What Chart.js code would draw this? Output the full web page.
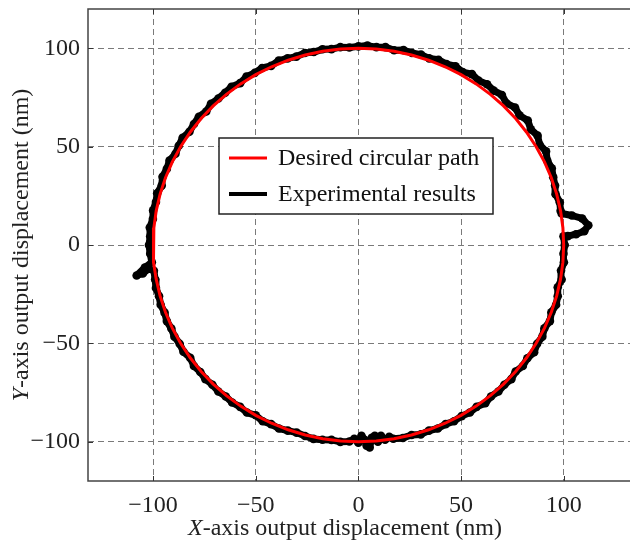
<!DOCTYPE html>
<html>
<head>
<meta charset="utf-8">
<script src="https://cdn.jsdelivr.net/npm/chart.js@4/dist/chart.umd.min.js"></script>
<style>
  html, body { margin: 0; padding: 0; background: #fff; }
  #wrap { width: 630px; height: 542px; }
</style>
</head>
<body>
<div id="wrap"><canvas id="c" width="630" height="542"></canvas></div>
<script>
// ---- data ----
const xTicks = [-100, -50, 0, 50, 100];
const yTicks = [-100, -50, 0, 50, 100];
const seriesLabels = ['Desired circular path', 'Experimental results'];
const xTitle = ['X', '-axis output displacement (nm)'];
const yTitle = ['Y', '-axis output displacement (nm)'];

const desiredX = [100, 99.62, 98.48, 96.59, 93.97, 90.63, 86.60, 81.92, 76.60, 70.71, 64.28, 57.36, 50.00, 42.26, 34.20, 25.88, 17.36, 8.72, 0,
  -8.72, -17.36, -25.88, -34.20, -42.26, -50.00, -57.36, -64.28, -70.71, -76.60, -81.92, -86.60, -90.63, -93.97, -96.59, -98.48, -99.62, -100,
  -99.62, -98.48, -96.59, -93.97, -90.63, -86.60, -81.92, -76.60, -70.71, -64.28, -57.36, -50.00, -42.26, -34.20, -25.88, -17.36, -8.72, 0,
  8.72, 17.36, 25.88, 34.20, 42.26, 50.00, 57.36, 64.28, 70.71, 76.60, 81.92, 86.60, 90.63, 93.97, 96.59, 98.48, 99.62, 100];
const desiredY = [0, 8.72, 17.36, 25.88, 34.20, 42.26, 50.00, 57.36, 64.28, 70.71, 76.60, 81.92, 86.60, 90.63, 93.97, 96.59, 98.48, 99.62, 100,
  99.62, 98.48, 96.59, 93.97, 90.63, 86.60, 81.92, 76.60, 70.71, 64.28, 57.36, 50.00, 42.26, 34.20, 25.88, 17.36, 8.72, 0,
  -8.72, -17.36, -25.88, -34.20, -42.26, -50.00, -57.36, -64.28, -70.71, -76.60, -81.92, -86.60, -90.63, -93.97, -96.59, -98.48, -99.62, -100,
  -99.62, -98.48, -96.59, -93.97, -90.63, -86.60, -81.92, -76.60, -70.71, -64.28, -57.36, -50.00, -42.26, -34.20, -25.88, -17.36, -8.72, 0];

const expX = [98.5, 98.1, 96.1, 95.8, 94.9, 94.2, 92.0, 91.4, 88.3, 87.3, 84.0, 82.5, 78.5, 76.3, 72.1, 69.9, 65.9, 62.7, 58.5, 55.3,
  50.8, 47.3, 42.9, 39.0, 34.5, 30.5, 26.1, 22.0, 17.4, 13.2, 8.8, 4.4, 0, -4.4, -8.8, -13.1, -17.5, -21.7, -26.1, -30.2,
  -34.5, -38.8, -42.5, -46.9, -50.5, -54.5, -57.6, -61.8, -64.9, -68.2, -71.8, -74.1, -77.7, -80.1, -82.3, -85.6, -87.5, -89.1, -92.0, -93.3,
  -95.4, -95.8, -98.0, -98.6, -100.0, -100.1, -101.6, -101.4, -102, -101.4, -100.6, -104, -108, -105, -102, -99.6, -99.0, -98.6, -97.1, -96.3,
  -94.4, -93.3, -91.1, -89.6, -87.0, -85.2, -81.9, -80.1, -77.0, -74.5, -71.1, -68.2, -64.6, -61.5, -57.6, -54.3, -50, -46.6, -42.5, -38.7,
  -34.4, -30.1, -26.0, -21.9, -17.5, -13.1, -8.8, -4.4, -2, 0, 1.5, 3, 4, 5.5, 6.5, 8, 9.5, 11, 13, 15,
  17, 21.7, 25.9, 30.4, 34.4, 38.7, 42.5, 46.6, 50.3, 54.3, 57.6, 61.8, 64.6, 68.2, 71.1, 74.5, 76.6, 80.1, 82.3, 85.6,
  87.0, 89.6, 90.6, 93.3, 94.0, 96.3, 97.1, 97.1, 99.0, 98.7, 100.1, 99.9, 100.5, 99.9, 102, 106, 110, 112, 109, 104, 99];
const expY = [17.4, 21.7, 25.8, 30.2, 34.5, 39.0, 42.9, 47.6, 51.0, 55.6, 58.8, 63.3, 65.9, 69.9, 72.1, 76.3, 78.5, 81.7, 83.6, 86.9,
  87.9, 90.9, 92.0, 94.2, 94.9, 96.8, 97.6, 99.1, 99.0, 100.6, 100.6, 101.4, 101, 100.4, 100.6, 99.6, 99.5, 98.1, 97.6, 95.8,
  94.9, 93.8, 91.1, 90.0, 87.5, 85.6, 82.3, 80.5, 77.4, 74.5, 71.8, 67.9, 65.2, 61.5, 57.6, 54.5, 50.5, 46.4, 42.9, 38.7,
  34.7, 30.2, 26.3, 21.9, 17.6, 13.2, 8.9, 4.4, 0, -4.4, -8.8, -11.5, -15.5, -14.5, -12, -13.1, -17.5, -21.9, -26.0, -30.4,
  -34.4, -38.7, -42.5, -46.6, -50.3, -54.3, -57.4, -61.5, -64.6, -68.2, -71.1, -74.5, -77.0, -80.1, -82.3, -85.2, -86.6, -89.6, -91.1, -93.3,
  -94.4, -95.4, -97.1, -98.6, -99.0, -99.1, -100.1, -99.9, -98.5, -100.5, -97, -99, -102, -103, -98, -97, -100, -97, -99, -97.5,
  -98.5, -98.1, -96.6, -96.3, -94.4, -93.3, -91.1, -89.6, -87.0, -85.2, -82.3, -80.5, -77.0, -74.5, -71.1, -68.2, -64.3, -61.5, -57.6, -54.5,
  -50.3, -46.6, -42.3, -38.7, -34.2, -30.4, -26.0, -21.5, -17.5, -13.0, -8.8, -4.4, 0, 4.4, 4.5, 5.5, 7, 10, 13.5, 15, 16];

// ---- build ----
const toPts = (xs, ys) => xs.map((x, i) => ({ x: x, y: ys[i] }));
const FONT = '"Liberation Serif", "Times New Roman", serif';
const TEXT = '#222';

const framePlugin = {
  id: 'frame',
  beforeDatasetsDraw(chart) {
    const { ctx, chartArea: a, scales } = chart;
    ctx.save();
    ctx.strokeStyle = '#444';
    ctx.lineWidth = 1.5;
    ctx.beginPath();
    ctx.moveTo(chart.width + 5, a.top);
    ctx.lineTo(a.left, a.top);
    ctx.lineTo(a.left, a.bottom);
    ctx.lineTo(chart.width + 5, a.bottom);
    ctx.stroke();
    ctx.lineWidth = 1;
    ctx.strokeStyle = '#333';
    const tl = 5;
    ctx.beginPath();
    xTicks.forEach(v => {
      const px = Math.round(scales.x.getPixelForValue(v)) + 0.5;
      ctx.moveTo(px, a.bottom); ctx.lineTo(px, a.bottom - tl);
      ctx.moveTo(px, a.top); ctx.lineTo(px, a.top + tl);
    });
    yTicks.forEach(v => {
      const py = Math.round(scales.y.getPixelForValue(v)) + 0.5;
      ctx.moveTo(a.left, py); ctx.lineTo(a.left + tl, py);
    });
    ctx.stroke();
    ctx.restore();
  },
  afterDraw(chart) {
    const { ctx } = chart;
    ctx.save();
    const drawMixed = (parts, cx, cy) => {
      ctx.font = 'italic 24px ' + FONT;
      const w0 = ctx.measureText(parts[0]).width;
      ctx.font = '24px ' + FONT;
      const w1 = ctx.measureText(parts[1]).width;
      const x0 = cx - (w0 + w1) / 2;
      ctx.textBaseline = 'alphabetic';
      ctx.textAlign = 'left';
      ctx.fillStyle = TEXT;
      ctx.font = 'italic 24px ' + FONT;
      ctx.fillText(parts[0], x0, cy);
      ctx.font = '24px ' + FONT;
      ctx.fillText(parts[1], x0 + w0, cy);
    };
    drawMixed(xTitle, 345, 535);
    ctx.save();
    ctx.translate(28, 245);
    ctx.rotate(-Math.PI / 2);
    drawMixed(yTitle, 0, 0);
    ctx.restore();

    const lx = 219, ly = 138, lw = 274, lh = 76;
    ctx.fillStyle = '#fff';
    ctx.fillRect(lx, ly, lw, lh);
    ctx.strokeStyle = '#222';
    ctx.lineWidth = 1.5;
    ctx.strokeRect(lx, ly, lw, lh);
    const ds = chart.data.datasets;
    const rows = [158, 194];
    ds.forEach((d, i) => {
      ctx.strokeStyle = d.borderColor;
      ctx.lineWidth = i === 0 ? 3 : 4;
      ctx.beginPath();
      ctx.moveTo(229, rows[i]);
      ctx.lineTo(267, rows[i]);
      ctx.stroke();
      ctx.fillStyle = '#111';
      ctx.font = '24px ' + FONT;
      ctx.textAlign = 'left';
      ctx.textBaseline = 'alphabetic';
      ctx.fillText(d.label, 278, rows[i] + 7);
    });
    ctx.restore();
  }
};

new Chart(document.getElementById('c'), {
  type: 'scatter',
  data: {
    datasets: [
      {
        label: seriesLabels[0],
        data: toPts(desiredX, desiredY),
        showLine: true,
        borderColor: '#ff0000',
        backgroundColor: '#ff0000',
        borderWidth: 3,
        pointRadius: 0,
        tension: 0
      },
      {
        label: seriesLabels[1],
        data: toPts(expX, expY),
        showLine: true,
        borderColor: '#000000',
        backgroundColor: '#000000',
        borderWidth: 7,
        borderJoinStyle: 'round',
        borderCapStyle: 'round',
        pointRadius: 4.3,
        pointBorderWidth: 0,
        pointBackgroundColor: '#000000',
        tension: 0
      }
    ]
  },
  options: {
    responsive: false,
    animation: false,
    events: [],
    layout: { autoPadding: false, padding: { top: 9, right: 0, left: 0, bottom: 0 } },
    plugins: { legend: { display: false }, tooltip: { enabled: false } },
    scales: {
      x: {
        type: 'linear',
        min: -131.7,
        max: 132.3,
        afterBuildTicks: s => { s.ticks = xTicks.map(v => ({ value: v })); },
        afterFit: s => { s.height = 61; s.paddingLeft = 0; s.paddingRight = 0; },
        grid: { color: '#7a7a7a', lineWidth: 1, drawTicks: false },
        border: { display: false, dash: [6, 4] },
        ticks: { color: TEXT, font: { family: FONT, size: 24 }, padding: 10, maxRotation: 0,
                 callback: v => (v < 0 ? '\u2212' + Math.abs(v) : String(v)) }
      },
      y: {
        type: 'linear',
        min: -120,
        max: 120,
        afterBuildTicks: s => { s.ticks = yTicks.map(v => ({ value: v })); },
        afterFit: s => { s.width = 88; s.paddingTop = 0; s.paddingBottom = 0; },
        grid: { color: '#7a7a7a', lineWidth: 1, drawTicks: false },
        border: { display: false, dash: [6, 4] },
        ticks: { color: TEXT, font: { family: FONT, size: 24 }, padding: 8,
                 callback: v => (v < 0 ? '\u2212' + Math.abs(v) : String(v)) }
      }
    }
  },
  plugins: [framePlugin]
});
</script>
</body>
</html>
